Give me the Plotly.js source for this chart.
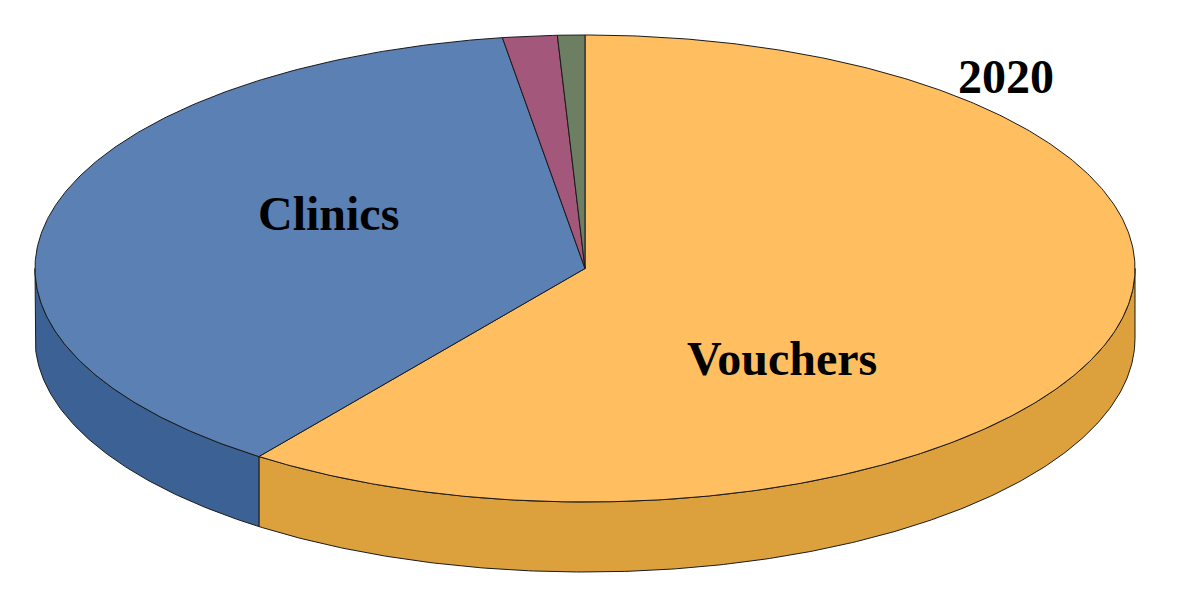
<!DOCTYPE html>
<html>
<head>
<meta charset="utf-8">
<script src="https://cdn.plot.ly/plotly-3.0.1.min.js"></script>
<style>html,body{margin:0;padding:0;background:#fff;overflow:hidden}#chart{width:1181px;height:598px}</style>
</head>
<body>
<div id="chart"></div>
<script>
const categories = ["Vouchers", "Clinics", "Unlabelled A", "Unlabelled B"];
const shares = [60.1, 37.5, 1.6, 0.8];
const topColors = ["#FFBF60", "#5B80B3", "#A2577B", "#6D7F63"];
const wallColors = ["#DCA03C", "#3C6195", "#82405F", "#55654C"];
const chartTitle = "2020";

const CX = 585, CY = 268.5, RX = 550, RY = 233.5, DEPTH = 70;
const pt = (deg, dy) => {
  const t = deg * Math.PI / 180;
  return [CX + RX * Math.sin(t), CY - RY * Math.cos(t) + (dy || 0)];
};
function arc(a, b, dy) {
  const n = Math.max(2, Math.ceil(Math.abs(b - a) * 2));
  const out = [];
  for (let i = 0; i <= n; i++) out.push(pt(a + (b - a) * i / n, dy));
  return out;
}
const total = shares.reduce((s, v) => s + v, 0);
let start = 0;
const spans = shares.map(v => {
  const a = start, b = start + v / total * 360;
  start = b;
  return [a, b];
});
const polygon = (pts, color, name) => ({
  type: "scatter", mode: "lines", name,
  x: pts.map(p => p[0]), y: pts.map(p => p[1]),
  fill: "toself", fillcolor: color,
  line: {color: "#1a1a1a", width: 1},
  hoverinfo: "skip", showlegend: false
});

const traces = [];
spans.forEach(([a, b], i) => {
  const lo = Math.max(a, 90), hi = Math.min(b, 270);
  if (hi > lo) {
    const pts = arc(lo, hi, 0).concat(arc(hi, lo, DEPTH));
    pts.push(pts[0]);
    traces.push(polygon(pts, wallColors[i], categories[i] + " side"));
  }
});
spans.forEach(([a, b], i) => {
  const pts = [[CX, CY]].concat(arc(a, b, 0));
  pts.push([CX, CY]);
  traces.push(polygon(pts, topColors[i], categories[i]));
});

const label = (text, x, y) => ({
  text, x, y, xref: "x", yref: "y", showarrow: false,
  xanchor: "center", yanchor: "middle",
  font: {family: "Liberation Serif, serif", size: 48, color: "#000", weight: 700}
});
const hidden = {visible: false, fixedrange: true};
Plotly.newPlot("chart", traces, {
  width: 1181, height: 598,
  margin: {l: 0, r: 0, t: 0, b: 0},
  paper_bgcolor: "#fff", plot_bgcolor: "#fff",
  xaxis: Object.assign({range: [0, 1181]}, hidden),
  yaxis: Object.assign({range: [598, 0]}, hidden),
  annotations: [
    label("<b>" + categories[0] + "</b>", 782, 358),
    label("<b>" + categories[1] + "</b>", 328, 213),
    label("<b>" + chartTitle + "</b>", 1006, 76)
  ]
}, {displayModeBar: false, staticPlot: true});
</script>
</body>
</html>
